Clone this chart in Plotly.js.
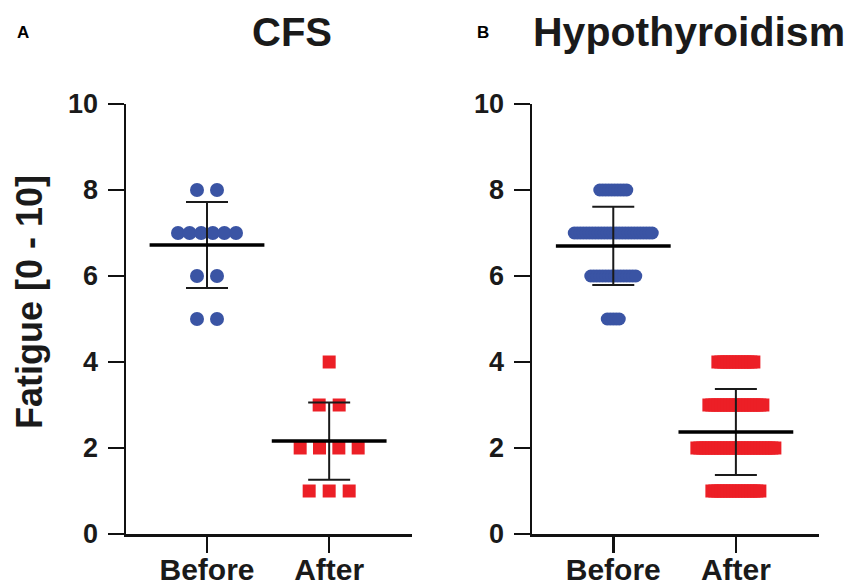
<!DOCTYPE html>
<html>
<head>
<meta charset="utf-8">
<script src="https://cdn.plot.ly/plotly-3.0.1.min.js"></script>
<style>html,body{margin:0;padding:0;background:#fff}#chart{width:847px;height:586px}</style>
</head>
<body>
<div id="chart"></div>
<script>
// ---- data ----
const categories = ['Before', 'After'];
const cfsBefore = [8, 8, 7, 7, 7, 7, 7, 7, 6, 6, 5, 5];
const cfsAfter = [4, 3, 3, 2, 2, 2, 2, 1, 1, 1];
const cfsMean = [6.72, 2.16];
const cfsSD = [1.00, 0.90];

const hypoBefore = [
  8, 8, 8, 8, 8, 8, 8, 8, 8, 8,
  7, 7, 7, 7, 7, 7, 7, 7, 7, 7, 7, 7, 7, 7, 7, 7, 7, 7, 7, 7, 7, 7, 7, 7, 7, 7, 7,
  6, 6, 6, 6, 6, 6, 6, 6, 6, 6, 6, 6, 6, 6, 6, 6,
  5, 5, 5, 5, 5
];
const hypoAfter = [
  4, 4, 4, 4, 4, 4, 4, 4, 4, 4, 4, 4, 4,
  3, 3, 3, 3, 3, 3, 3, 3, 3, 3, 3, 3, 3, 3, 3, 3, 3, 3, 3,
  2, 2, 2, 2, 2, 2, 2, 2, 2, 2, 2, 2, 2, 2, 2, 2, 2, 2, 2, 2, 2, 2, 2, 2, 2, 2, 2,
  1, 1, 1, 1, 1, 1, 1, 1, 1, 1, 1, 1, 1, 1, 1, 1, 1
];
const hypoMean = [6.70, 2.37];
const hypoSD = [0.91, 1.00];

// ---- styling / layout ----
const W = 847, H = 586;
const BLUE = '#3A54A4', RED = '#EC1F26';
const FONT = 'Liberation Sans, Arial, Helvetica, sans-serif';
const xRange = [0.337, 2.678];
const domA = [126 / W, 412 / W];
const domB = [532 / W, 819 / W];
const yDom = [1 - 534 / H, 1 - 104 / H];

function pxPerUnit(dom) { return (dom[1] - dom[0]) * W / (xRange[1] - xRange[0]); }

// spread identical values horizontally around the category centre (scatter-dot style)
function spread(values, centre, gapPx, maxSpanPx, dom) {
  const ppu = pxPerUnit(dom);
  const counts = {}, seen = {};
  values.forEach(v => { counts[v] = (counts[v] || 0) + 1; });
  return values.map(v => {
    const n = counts[v];
    const k = seen[v] || 0; seen[v] = k + 1;
    let gap = gapPx;
    if (maxSpanPx && n > 1) gap = Math.min(gapPx, maxSpanPx / (n - 1));
    return centre + (k - (n - 1) / 2) * gap / ppu;
  });
}

function pointTrace(vals, centre, color, symbol, size, gap, maxSpan, dom, xa, ya) {
  return {
    type: 'scatter', mode: 'markers', xaxis: xa, yaxis: ya,
    x: spread(vals, centre, gap, maxSpan, dom), y: vals,
    marker: { color: color, symbol: symbol, size: size, line: { width: 0 } },
    hoverinfo: 'skip', showlegend: false, cliponaxis: false
  };
}

function meanTrace(mean, sd, xa, ya) {
  return {
    type: 'scatter', mode: 'markers', xaxis: xa, yaxis: ya,
    x: [1, 2], y: mean,
    error_y: { type: 'data', array: sd, visible: true, color: '#1a1a1a', thickness: 2, width: 21 },
    marker: { symbol: 'line-ew-open', size: 82, color: '#000', line: { width: 3.5, color: '#000' } },
    hoverinfo: 'skip', showlegend: false, cliponaxis: false
  };
}

const traces = [
  pointTrace(cfsBefore, 1, BLUE, 'circle', 14, 20, 58, domA, 'x', 'y'),
  pointTrace(cfsAfter, 2, RED, 'square', 13, 20, 58, domA, 'x', 'y'),
  meanTrace(cfsMean, cfsSD, 'x', 'y'),
  pointTrace(hypoBefore, 1, BLUE, 'circle', 13, 3.0, 0, domB, 'x2', 'y2'),
  pointTrace(hypoAfter, 2, RED, 'square', 13, 3.0, 0, domB, 'x2', 'y2'),
  meanTrace(hypoMean, hypoSD, 'x2', 'y2')
];

function xAxis(dom, anchor) {
  return {
    domain: dom, anchor: anchor, range: xRange, fixedrange: true,
    tickmode: 'array', tickvals: [1, 2], ticktext: categories,
    showline: true, linewidth: 2.5, linecolor: '#111',
    ticks: 'outside', ticklen: 16, tickwidth: 2.5, tickcolor: '#111',
    showgrid: false, zeroline: false, ticklabelstandoff: -9,
    tickfont: { family: FONT, size: 30, color: '#1a1a1a', weight: 'bold' }
  };
}
function yAxis(anchor) {
  return {
    domain: yDom, anchor: anchor, range: [0, 10], fixedrange: true,
    tickmode: 'linear', tick0: 0, dtick: 2,
    showline: true, linewidth: 2.5, linecolor: '#111',
    ticks: 'outside', ticklen: 16, tickwidth: 2.5, tickcolor: '#111',
    showgrid: false, zeroline: false, ticklabelstandoff: 4,
    tickfont: { family: FONT, size: 27, color: '#1a1a1a', weight: 'bold' }
  };
}

const layout = {
  width: W, height: H,
  margin: { l: 0, r: 0, t: 0, b: 0 },
  paper_bgcolor: '#fff', plot_bgcolor: '#fff',
  showlegend: false, hovermode: false,
  xaxis: xAxis(domA, 'y'), yaxis: yAxis('x'),
  xaxis2: xAxis(domB, 'y2'), yaxis2: yAxis('x2'),
  annotations: [
    { text: 'CFS', xref: 'paper', yref: 'paper', x: 292 / W, y: 1 - 32 / H,
      xanchor: 'center', yanchor: 'middle', showarrow: false,
      font: { family: FONT, size: 40, color: '#1a1a1a', weight: 'bold' } },
    { text: 'Hypothyroidism', xref: 'paper', yref: 'paper', x: 689 / W, y: 1 - 32 / H,
      xanchor: 'center', yanchor: 'middle', showarrow: false,
      font: { family: FONT, size: 41, color: '#1a1a1a', weight: 'bold' } },
    { text: 'A', xref: 'paper', yref: 'paper', x: 22.5 / W, y: 1 - 33 / H,
      xanchor: 'center', yanchor: 'middle', showarrow: false,
      font: { family: FONT, size: 17, color: '#000', weight: 'bold' } },
    { text: 'B', xref: 'paper', yref: 'paper', x: 483 / W, y: 1 - 33 / H,
      xanchor: 'center', yanchor: 'middle', showarrow: false,
      font: { family: FONT, size: 17, color: '#000', weight: 'bold' } },
    { text: 'Fatigue [0 - 10]', xref: 'paper', yref: 'paper', x: 29 / W, y: 1 - 302 / H,
      xanchor: 'center', yanchor: 'middle', textangle: -90, showarrow: false,
      font: { family: FONT, size: 36, color: '#1a1a1a', weight: 'bold' } }
  ]
};

Plotly.newPlot('chart', traces, layout, { staticPlot: true, displayModeBar: false });
</script>
</body>
</html>
